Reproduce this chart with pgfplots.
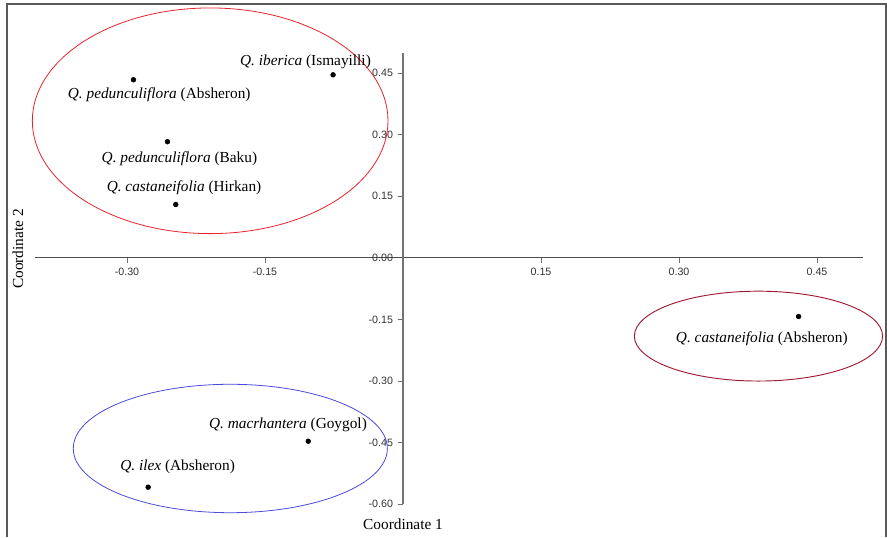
\documentclass[border=0pt]{standalone}
\usepackage{pgfplots}
\pgfplotsset{compat=1.18}
\usepackage{fontspec}
\setmainfont{Liberation Serif}
\newfontfamily\tickfont{Liberation Sans}
\definecolor{ellred}{HTML}{E8232E}
\definecolor{elldark}{HTML}{9E1B32}
\definecolor{ellblue}{HTML}{4B4BD8}
\definecolor{axgray}{HTML}{6E6E6E}
\newcommand{\lbl}{\fontsize{11.5}{13}\selectfont}
\begin{document}
\begin{tikzpicture}
\useasboundingbox (0,0) rectangle (665.25pt,402.75pt);
\draw[line width=1.1pt, black!65] (5.25pt,0) -- (5.25pt,399.75pt) -- (664.5pt,399.75pt) -- (664.5pt,0);
\begin{axis}[
  at={(26.25pt,24.75pt)}, anchor=south west,
  scale only axis, width=621pt, height=338.5pt,
  xmin=-0.40, xmax=0.50, ymin=-0.60, ymax=0.50,
  axis lines=middle,
  axis line style={-},
  x axis line style={black!70, line width=0.6pt},
  y axis line style={black!55, line width=1.1pt},
  hide obscured x ticks=false,
  hide obscured y ticks=false,
  clip=false,
  xtick={-0.30,-0.15,0.15,0.30,0.45},
  xticklabels={-0.30,-0.15,0.15,0.30,0.45},
  ytick={-0.60,-0.45,-0.30,-0.15,0,0.15,0.30,0.45},
  yticklabels={-0.60,-0.45,-0.30,-0.15,0.00,0.15,0.30,0.45},
  tick align=outside,
  major tick length=4pt,
  tick style={axgray, line width=0.6pt},
  ticklabel style={font=\tickfont\fontsize{8}{9}\selectfont, text=black!80},
]
\addplot[only marks, mark=*, mark size=1.8pt, black] coordinates {
  (-0.076,0.446) (-0.293,0.434) (-0.256,0.283) (-0.247,0.130)
  (0.430,-0.143) (-0.103,-0.447) (-0.277,-0.559)};
\draw[ellred, line width=0.6pt] (axis cs:-0.2096,0.334) ellipse [x radius=0.1933, y radius=0.275];
\draw[elldark, line width=0.7pt] (axis cs:0.3864,-0.1908) ellipse [x radius=0.1349, y radius=0.1095];
\draw[ellblue, line width=0.6pt] (axis cs:-0.1877,-0.4647) ellipse [x radius=0.1707, y radius=0.1565];
\node[font=\lbl] at (axis cs:-0.106,0.478) {\textit{Q. iberica} (Ismayilli)};
\node[font=\lbl] at (axis cs:-0.265,0.397) {\textit{Q. pedunculiflora} (Absheron)};
\node[font=\lbl] at (axis cs:-0.243,0.242) {\textit{Q. pedunculiflora} (Baku)};
\node[font=\lbl] at (axis cs:-0.238,0.171) {\textit{Q. castaneifolia} (Hirkan)};
\node[font=\lbl] at (axis cs:0.390,-0.197) {\textit{Q. castaneifolia} (Absheron)};
\node[font=\lbl] at (axis cs:-0.125,-0.406) {\textit{Q. macrhantera} (Goygol)};
\node[font=\lbl] at (axis cs:-0.245,-0.510) {\textit{Q. ilex} (Absheron)};
\end{axis}
\node[font=\lbl] at (302.25pt,9.75pt) {Coordinate 1};
\node[font=\lbl, rotate=90] at (13.5pt,216pt) {Coordinate 2};
\end{tikzpicture}
\end{document}
